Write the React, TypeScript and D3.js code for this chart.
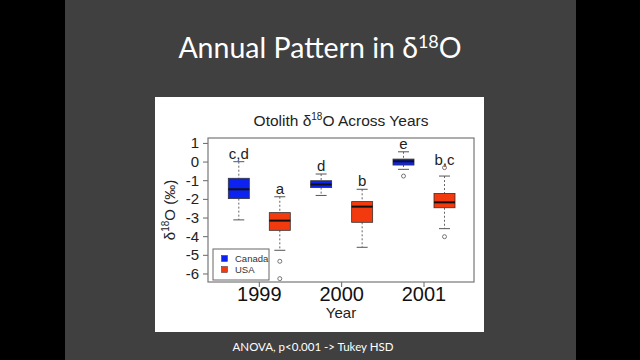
import React from "react";
import * as d3 from "d3";

// data
const years = [1999, 2000, 2001];
const countries = ["Canada", "USA"];
const colors = ["#0b22f0", "#f23a0e"];
// [lower whisker, q1, median, q3, upper whisker]
const canadaStats = [
  [-3.1, -1.96, -1.46, -0.87, 0.02],
  [-1.79, -1.37, -1.2, -1.0, -0.64],
  [-0.39, -0.16, 0.04, 0.16, 0.55],
];
const usaStats = [
  [-4.73, -3.66, -3.14, -2.71, -1.86],
  [-4.57, -3.23, -2.39, -2.12, -1.46],
  [-3.57, -2.45, -2.16, -1.68, -0.75],
];
const canadaOutliers = [[], [], [-0.75]];
const usaOutliers = [[-5.32, -6.25], [], [-4.0, -0.3]];
const canadaLetters = ["c,d", "d", "e"];
const usaLetters = ["a", "b", "b,c"];
const yTicks = [1, 0, -1, -2, -3, -4, -5, -6];

const W = 640;
const H = 360;
const plot = { left: 208, right: 474, top: 138, bottom: 282 };

export default function App() {
  const y = d3.scaleLinear().domain([-6.43, 1.29]).range([plot.bottom, plot.top]);
  const x = d3.scaleLinear().domain([1999, 2001]).range([259.3, 424]);
  const offset = 20.5;
  const boxW = 21;
  const capW = 11;
  const font = "Liberation Sans, Arial, sans-serif";

  const groups = years.flatMap((yr, i) => [
    { cx: x(yr) - offset, s: canadaStats[i], out: canadaOutliers[i], lab: canadaLetters[i], col: colors[0] },
    { cx: x(yr) + offset, s: usaStats[i], out: usaOutliers[i], lab: usaLetters[i], col: colors[1] },
  ]);

  return (
    <svg width={W} height={H} style={{ position: "fixed", left: 0, top: 0 }}>
      <rect width={W} height={H} fill="#000" />
      <rect x={65} y={0} width={511} height={H} fill="#404040" />
      <text x={320} y={58} textAnchor="middle" fill="#fff" fontFamily="Lato, sans-serif" fontSize={28.5}>
        Annual Pattern in δ<tspan dy={-10} fontSize={18}>18</tspan>
        <tspan dy={10}>O</tspan>
      </text>
      <text x={313} y={351} textAnchor="middle" fill="#fff" fontFamily="Lato, sans-serif" fontSize={11.5}>
        ANOVA, p&lt;0.001 -&gt; Tukey HSD
      </text>

      <rect x={155} y={97} width={329} height={235} fill="#fff" />

      <text x={341} y={126} textAnchor="middle" fill="#222" fontFamily={font} fontSize={15.5}>
        Otolith δ<tspan dy={-6} fontSize={10}>18</tspan>
        <tspan dy={6}>O Across Years</tspan>
      </text>

      {/* y axis */}
      {yTicks.map((t) => (
        <g key={t}>
          <line x1={plot.left - 5} x2={plot.left} y1={y(t)} y2={y(t)} stroke="#666" />
          <text x={199} y={y(t) + 5} textAnchor="end" fill="#222" fontFamily={font} fontSize={15}>
            {t}
          </text>
        </g>
      ))}
      <text
        transform={`translate(175,${(plot.top + plot.bottom) / 2}) rotate(-90)`}
        textAnchor="middle"
        fill="#222"
        fontFamily={font}
        fontSize={15}
      >
        δ<tspan dy={-6} fontSize={10}>18</tspan>
        <tspan dy={6}>O (‰)</tspan>
      </text>

      {/* x axis */}
      {years.map((yr) => (
        <g key={yr}>
          <line x1={x(yr)} x2={x(yr)} y1={plot.bottom} y2={plot.bottom + 5} stroke="#666" />
          <text x={x(yr)} y={301} textAnchor="middle" fill="#111" fontFamily={font} fontSize={20}>
            {yr}
          </text>
        </g>
      ))}
      <text x={341} y={318} textAnchor="middle" fill="#222" fontFamily={font} fontSize={15}>
        Year
      </text>

      {/* boxes */}
      {groups.map((g, i) => {
        const [lo, q1, med, q3, hi] = g.s;
        const top = Math.min(y(hi), ...g.out.map((o) => y(o)));
        return (
          <g key={i}>
            <line x1={g.cx} x2={g.cx} y1={y(hi)} y2={y(q3)} stroke="#666" strokeDasharray="2,2" />
            <line x1={g.cx} x2={g.cx} y1={y(q1)} y2={y(lo)} stroke="#666" strokeDasharray="2,2" />
            <line x1={g.cx - capW / 2} x2={g.cx + capW / 2} y1={y(hi)} y2={y(hi)} stroke="#555" />
            <line x1={g.cx - capW / 2} x2={g.cx + capW / 2} y1={y(lo)} y2={y(lo)} stroke="#555" />
            <rect
              x={g.cx - boxW / 2}
              y={y(q3)}
              width={boxW}
              height={y(q1) - y(q3)}
              fill={g.col}
              stroke="#333"
              strokeWidth={0.8}
            />
            <line x1={g.cx - boxW / 2} x2={g.cx + boxW / 2} y1={y(med)} y2={y(med)} stroke="#111" strokeWidth={2} />
            {g.out.map((o, j) => (
              <circle key={j} cx={g.cx} cy={y(o)} r={2} fill="none" stroke="#555" strokeWidth={0.8} />
            ))}
            <text x={g.cx} y={top - 3} textAnchor="middle" fill="#222" fontFamily={font} fontSize={15}>
              {g.lab}
            </text>
          </g>
        );
      })}

      <rect
        x={plot.left}
        y={plot.top}
        width={plot.right - plot.left}
        height={plot.bottom - plot.top}
        fill="none"
        stroke="#777"
        strokeWidth={1.2}
      />

      {/* legend */}
      <rect x={213} y={249} width={56} height={31} fill="#fff" stroke="#666" />
      {countries.map((c, i) => (
        <g key={c}>
          <rect x={221.5} y={255.5 + i * 11} width={6} height={6} fill={colors[i]} stroke="#333" strokeWidth={0.5} />
          <text x={235} y={262 + i * 11} fill="#333" fontFamily={font} fontSize={9.5}>
            {c}
          </text>
        </g>
      ))}
    </svg>
  );
}
